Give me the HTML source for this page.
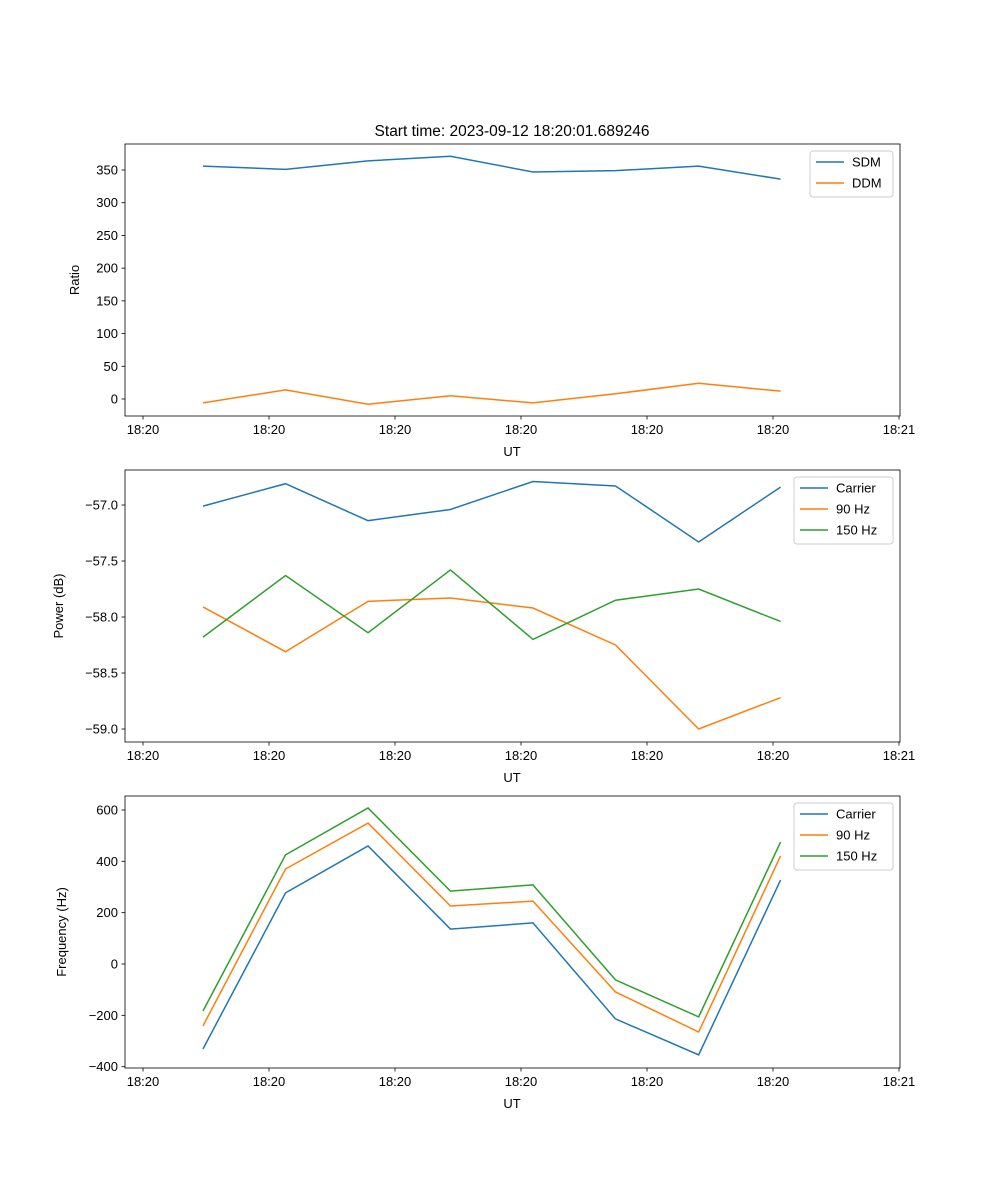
<!DOCTYPE html>
<html><head><meta charset="utf-8"><style>
body{margin:0;background:#fff;}
svg{display:block;font-family:"Liberation Sans","DejaVu Sans",sans-serif;}
</style></head><body>
<svg id="fig" width="1000" height="1200" viewBox="0 0 1000 1200"></svg>
<script>
const times=[4.76,11.31,17.86,24.4,30.95,37.5,44.1,50.6];
const xTickLabels=["18:20","18:20","18:20","18:20","18:20","18:20","18:21"];
const xTickVals=[0,10,20,30,40,50,60];
const sdm=[356,351,364,371,347,349,356,336];
const ddm=[-6,14,-8,5,-6,8,24,12];
const pCarrier=[-57.01,-56.81,-57.14,-57.04,-56.79,-56.83,-57.33,-56.84];
const p90=[-57.91,-58.31,-57.86,-57.83,-57.92,-58.25,-59.0,-58.72];
const p150=[-58.18,-57.63,-58.14,-57.58,-58.20,-57.85,-57.75,-58.04];
const fCarrier=[-331,277,460,136,160,-214,-354,327];
const f90=[-241,370,549,226,245,-109,-265,421];
const f150=[-183,425,608,284,308,-62,-206,475];
const ticks1=[0,50,100,150,200,250,300,350];
const ticks2=[-57.0,-57.5,-58.0,-58.5,-59.0];
const ticks3=[-400,-200,0,200,400,600];
const NS="http://www.w3.org/2000/svg";
const svg=document.getElementById('fig');
function el(t,a,p){const e=document.createElementNS(NS,t);for(const k in a)e.setAttribute(k,a[k]);(p||svg).appendChild(e);return e;}
const L=125,R=900;
function xs(t){return 143+(t-0)*(899-143)/60;}
function panel(name,top,bot,ys,yt,fmt,ylabel,series,legend){
  const g=el('g',{});
  
  
  for(const s of series){
    const pts=s.v.map((v,i)=>xs(times[i])+','+ys(v)).join(' ');
    const pl=el('polyline',{points:pts,fill:'none',stroke:s.c,'stroke-width':1.5},g);
    
    
  }
  el('rect',{x:L,y:top,width:R-L,height:bot-top,fill:'none',stroke:'#000','stroke-width':0.8},g);
  xTickVals.forEach((t,i)=>{const x=xs(t);el('line',{x1:x,x2:x,y1:bot,y2:bot+3.5,stroke:'#000','stroke-width':0.8},g);
    const tx=el('text',{x:x,y:bot+18,'font-size':13,'text-anchor':'middle'},g);tx.textContent=xTickLabels[i];
    });
  yt.forEach(v=>{const y=ys(v);el('line',{x1:L-3.5,x2:L,y1:y,y2:y,stroke:'#000','stroke-width':0.8},g);
    const tx=el('text',{x:L-7,y:y+4.5,'font-size':13,'text-anchor':'end'},g);tx.textContent=fmt(v);
    });
  const xl=el('text',{x:512,y:bot+40,'font-size':13,'text-anchor':'middle'},g);xl.textContent='UT';
  
  const yl=el('text',{x:0,y:0,'font-size':13,'text-anchor':'middle',transform:`translate(${ylabel.x},${(top+bot)/2}) rotate(-90)`},g);yl.textContent=ylabel.t;
  
  const lg=el('g',{},g);
  
  el('rect',{x:legend.x,y:top+7,width:893-legend.x,height:series.length*21+4,fill:'#fff',stroke:'#ccc',rx:3},lg);
  series.forEach((s,i)=>{const y=top+18+i*21;
    el('line',{x1:legend.x+6,x2:legend.x+34,y1:y,y2:y,stroke:s.c,'stroke-width':1.5},lg);
    const tx=el('text',{x:legend.x+42,y:y+4.5,'font-size':13},lg);tx.textContent=s.n;
    });
}
const C=['#1f77b4','#ff7f0e','#2ca02c'];
panel('ratio-panel',144,416,v=>399-v*229/350,ticks1,v=>String(v),{x:79,t:'Ratio'},
  [{n:'SDM',v:sdm,c:C[0]},{n:'DDM',v:ddm,c:C[1]}],{x:810});
panel('power-panel',470,742,v=>505+(-57-v)*224/2,ticks2,v=>'\u2212'+Math.abs(v).toFixed(1),{x:63,t:'Power (dB)'},
  [{n:'Carrier',v:pCarrier,c:C[0]},{n:'90 Hz',v:p90,c:C[1]},{n:'150 Hz',v:p150,c:C[2]}],{x:794});
panel('frequency-panel',796,1068,v=>964-v*0.2567,ticks3,v=>(v<0?'\u2212':'')+Math.abs(v),{x:66,t:'Frequency (Hz)'},
  [{n:'Carrier',v:fCarrier,c:C[0]},{n:'90 Hz',v:f90,c:C[1]},{n:'150 Hz',v:f150,c:C[2]}],{x:794});
const title=el('text',{x:512,y:136,'font-size':15.5,'text-anchor':'middle'});
title.textContent='Start time: 2023-09-12 18:20:01.689246';


</script>
</body></html>
